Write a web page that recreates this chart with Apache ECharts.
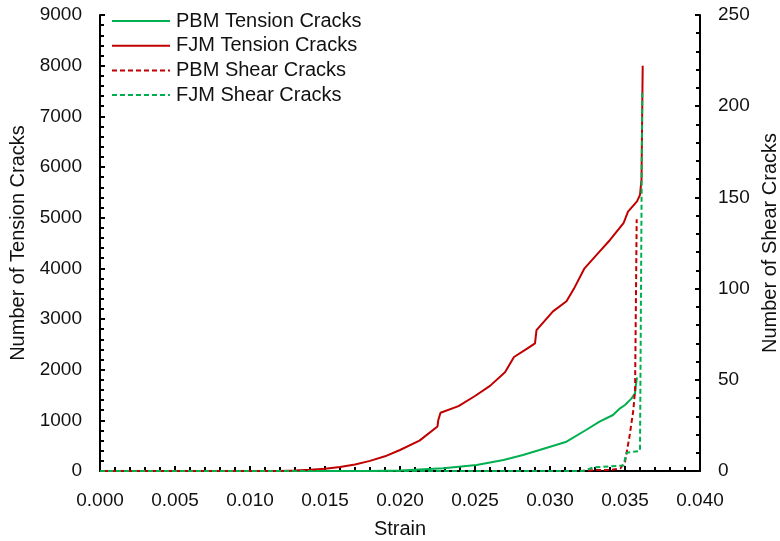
<!DOCTYPE html>
<html>
<head>
<meta charset="utf-8">
<script src="https://cdn.jsdelivr.net/npm/echarts@6/dist/echarts.min.js"></script>
<style>html,body{margin:0;padding:0;background:#fff}#c{width:780px;height:541px}</style>
</head>
<body>
<div id="c"></div>
<script>
// Strain ticks
const xTicks = [0, 0.005, 0.010, 0.015, 0.020, 0.025, 0.030, 0.035, 0.040];
const seriesNames = ['PBM Tension Cracks', 'FJM Tension Cracks', 'PBM Shear Cracks', 'FJM Shear Cracks'];

// PBM tension cracks (left axis)
const pbmTensionStrain = [0, 0.018, 0.020, 0.0229, 0.0251, 0.0269, 0.0282, 0.0293, 0.0311, 0.0324, 0.0333, 0.0342, 0.03467, 0.035, 0.03544, 0.03567, 0.03573, 0.0358];
const pbmTensionCount  = [0, 0, 10, 52, 118, 217, 316, 414, 578, 809, 973, 1105, 1237, 1303, 1434, 1533, 1697, 1850];

// FJM tension cracks (left axis)
const fjmTensionStrain = [0, 0.012, 0.013, 0.014, 0.015, 0.016, 0.017, 0.018, 0.019, 0.020, 0.0213, 0.0225, 0.02255, 0.0227, 0.0239, 0.025, 0.026, 0.027, 0.0276, 0.0285, 0.029, 0.0291, 0.0302, 0.0311, 0.0316, 0.0323, 0.0333, 0.034, 0.0349, 0.0352, 0.0358, 0.0360, 0.0361, 0.03618];
const fjmTensionCount  = [0, 0, 10, 25, 45, 80, 130, 200, 290, 414, 600, 880, 1000, 1150, 1280, 1480, 1680, 1950, 2250, 2420, 2520, 2780, 3150, 3350, 3600, 4000, 4330, 4560, 4890, 5120, 5320, 5450, 5750, 8000];

// PBM shear cracks (right axis)
const pbmShearStrain = [0, 0.032, 0.033, 0.034, 0.0347, 0.035, 0.0353, 0.03555, 0.03567, 0.03578];
const pbmShearCount  = [0, 0, 0.5, 0.5, 1.5, 5, 19, 33, 44, 138];

// FJM shear cracks (right axis)
const fjmShearStrain = [0, 0.0322, 0.0329, 0.034, 0.0349, 0.0351, 0.036, 0.0361, 0.03615];
const fjmShearCount  = [0, 0, 2, 2.5, 3, 10, 11, 11.5, 209];

const green = '#00B050', red = '#C00000';
const font = 'Liberation Sans, Arial, sans-serif';
const txt = '#111';

function pairs(xs, ys){ return xs.map((x,i)=>[x, ys[i]]); }

const chart = echarts.init(document.getElementById('c'), null, {renderer:'canvas'});
const axisCommon = {
  axisLine: {show:true, onZero:false, lineStyle:{color:'#000', width:2}},
  axisTick: {show:true, inside:true, length:5, lineStyle:{color:'#000', width:2}},
  minorTick: {show:true, splitNumber:5, length:4, lineStyle:{color:'#000', width:2}},
  splitLine: {show:false},
  axisLabel: {color:txt, fontSize:19, fontFamily:font, margin:18},
  nameTextStyle: {color:txt, fontSize:20, fontFamily:font}
};
chart.setOption({
  animation:false,
  backgroundColor:'#fff',
  grid:{left:100, right:80, top:15, bottom:70, containLabel:false, outerBoundsMode:'none'},
  legend:{
    orient:'vertical', left:111, top:11, padding:0, itemWidth:58, itemHeight:14, itemGap:4.7,
    data: seriesNames,
    itemStyle:{opacity:0},
    textStyle:{color:txt, fontSize:20, fontFamily:font, lineHeight:20, padding:[0,0,0,1]}
  },
  xAxis:Object.assign({}, axisCommon, {
    type:'value', min:0, max:0.04, interval:0.005,
    name:'Strain', nameLocation:'middle', nameGap:48,
    axisLabel:Object.assign({}, axisCommon.axisLabel, {margin:20, formatter:v=>v.toFixed(3)})
  }),
  yAxis:[
    Object.assign({}, axisCommon, {
      type:'value', min:0, max:9000, interval:1000, position:'left',
      name:'Number of Tension Cracks', nameLocation:'middle', nameGap:68,
      axisLabel:Object.assign({}, axisCommon.axisLabel, {formatter:v=>String(v)})
    }),
    Object.assign({}, axisCommon, {
      type:'value', min:0, max:250, interval:50, position:'right',
      name:'Number of Shear Cracks', nameLocation:'middle', nameGap:60,
      axisLabel:Object.assign({}, axisCommon.axisLabel, {formatter:v=>String(v)})
    })
  ],
  series:[
    {name:seriesNames[0], type:'line', yAxisIndex:0, showSymbol:false, symbol:'none', data:pairs(pbmTensionStrain, pbmTensionCount), lineStyle:{color:green, width:2}, itemStyle:{color:green}},
    {name:seriesNames[1], type:'line', yAxisIndex:0, showSymbol:false, symbol:'none', data:pairs(fjmTensionStrain, fjmTensionCount), lineStyle:{color:red, width:2}, itemStyle:{color:red}},
    {name:seriesNames[2], type:'line', yAxisIndex:1, showSymbol:false, symbol:'none', data:pairs(pbmShearStrain, pbmShearCount), lineStyle:{color:red, width:2, type:[5,3]}, itemStyle:{color:red}},
    {name:seriesNames[3], type:'line', yAxisIndex:1, showSymbol:false, symbol:'none', data:pairs(fjmShearStrain, fjmShearCount), lineStyle:{color:green, width:2, type:[5,3]}, itemStyle:{color:green}}
  ]
});
</script>
</body>
</html>
